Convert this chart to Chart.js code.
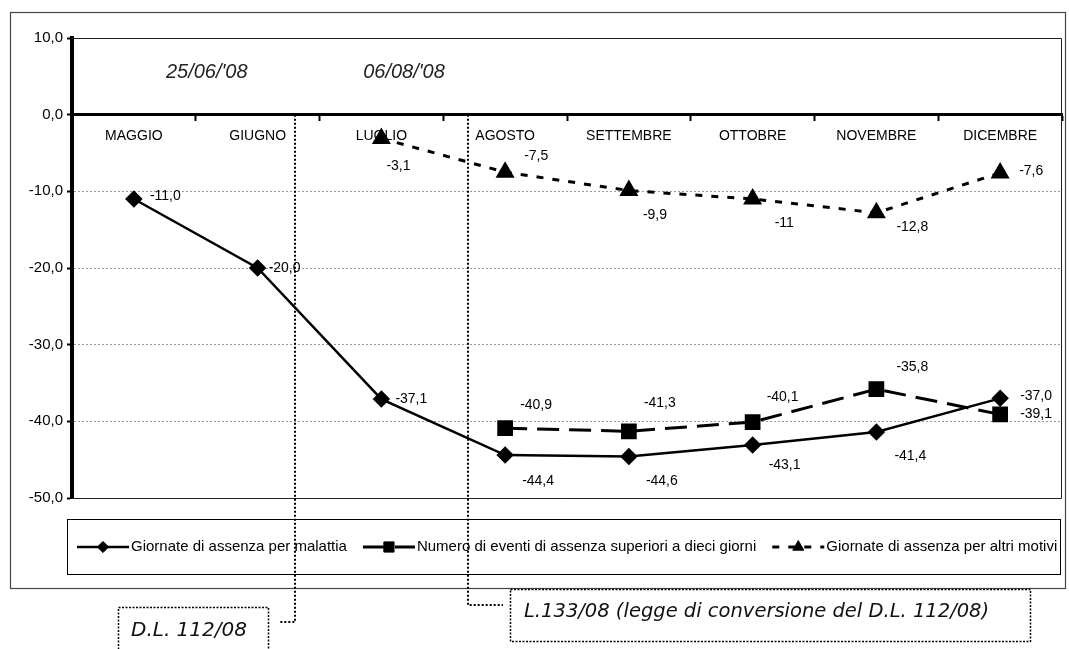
<!DOCTYPE html>
<html>
<head>
<meta charset="utf-8">
<title>Assenze 2008</title>
<script src="https://cdn.jsdelivr.net/npm/chart.js@4.4.0/dist/chart.umd.min.js"></script>
<style>
    html, body { margin: 0; padding: 0; background: #fff; }
    #wrap { width: 1069px; height: 649px; position: relative; }
</style>
</head>
<body>
<div id="wrap"><canvas id="assenzeChart" width="1069" height="649"></canvas></div>
<script>
const months = ['MAGGIO', 'GIUGNO', 'LUGLIO', 'AGOSTO', 'SETTEMBRE', 'OTTOBRE', 'NOVEMBRE', 'DICEMBRE'];
const malattia = [-11.0, -20.0, -37.1, -44.4, -44.6, -43.1, -41.4, -37.0];
const eventi = [null, null, null, -40.9, -41.3, -40.1, -35.8, -39.1];
const altriMotivi = [null, null, -3.1, -7.5, -9.9, -11, -12.8, -7.6];
const yMin = -50;
const yMax = 10;
const yStep = 10;
const seriesNames = [
    'Giornate di assenza per malattia',
    'Numero di eventi di assenza superiori a dieci giorni',
    'Giornate di assenza per altri motivi'
];
// dates of the two laws, as positions on the month axis
const dateLabels = ["25/06/'08", "06/08/'08"];
const datePositions = [1.30, 2.70];
const lawLabels = ['D.L. 112/08', 'L.133/08 (legge di conversione del D.L. 112/08)'];

const FONT = '"Liberation Sans", Arial, sans-serif';

// where each value label sits relative to its point
const labelOffsets = [
    [[16, -3], [11, 0], [14, 0], [17, 26], [17, 25], [16, 20], [18, 24], [20, -2]],
    [null, null, null, [15, -23], [15, -28], [14, -25], [20, -22], [20, 0]],
    [null, null, [5, 28], [19, -16], [14, 25], [22, 24], [20, 14], [19, -2]]
];

function fmtComma(v, fixed) {
    const s = fixed ? v.toFixed(1) : String(v);
    return s.replace('.', ',');
}

const valueLabels = {
    id: 'valueLabels',
    afterDatasetsDraw(chart) {
        const ctx = chart.ctx;
        ctx.save();
        ctx.fillStyle = '#000';
        ctx.font = '14px ' + FONT;
        ctx.textAlign = 'left';
        ctx.textBaseline = 'middle';
        chart.data.datasets.forEach((ds, di) => {
            const meta = chart.getDatasetMeta(di);
            meta.data.forEach((pt, i) => {
                const v = ds.data[i];
                if (v === null || v === undefined) return;
                const off = labelOffsets[di][i] || [12, 0];
                ctx.fillText(fmtComma(v, ds.fixedLabel), pt.x + off[0], pt.y + off[1]);
            });
        });
        ctx.restore();
    }
};

function drawSymbol(ctx, ds, x, y, len) {
    ctx.save();
    ctx.strokeStyle = ds.borderColor;
    ctx.lineWidth = ds.borderWidth;
    ctx.setLineDash(ds.borderDash || []);
    ctx.beginPath();
    ctx.moveTo(x, y);
    ctx.lineTo(x + len, y);
    ctx.stroke();
    ctx.setLineDash([]);
    ctx.fillStyle = ds.pointBackgroundColor;
    ctx.strokeStyle = ds.pointBorderColor;
    ctx.lineWidth = 1;
    Chart.helpers.drawPoint(ctx, {
        pointStyle: ds.pointStyle,
        radius: ds.pointRadius * 0.8,
        rotation: 0,
        borderWidth: 1
    }, x + len / 2, y);
    ctx.restore();
}

function dottedLine(ctx, pts) {
    ctx.beginPath();
    ctx.moveTo(pts[0][0], pts[0][1]);
    for (let i = 1; i < pts.length; i++) ctx.lineTo(pts[i][0], pts[i][1]);
    ctx.stroke();
}

const decorations = {
    id: 'decorations',
    afterDraw(chart) {
        const ctx = chart.ctx;
        const area = chart.chartArea;
        const x = chart.scales.x;
        const y = chart.scales.y;
        ctx.save();

        // outer frame
        ctx.strokeStyle = '#444';
        ctx.lineWidth = 1.2;
        ctx.strokeRect(10.5, 12.5, 1055, 576);

        // plot frame (top and right)
        ctx.strokeStyle = '#222';
        ctx.lineWidth = 1;
        ctx.beginPath();
        ctx.moveTo(area.left, area.top + 0.5);
        ctx.lineTo(area.right - 0.5, area.top + 0.5);
        ctx.lineTo(area.right - 0.5, area.bottom + 0.5);
        ctx.lineTo(area.left, area.bottom + 0.5);
        ctx.stroke();

        // legend box
        ctx.strokeStyle = '#000';
        ctx.lineWidth = 1;
        ctx.strokeRect(67.5, 519.5, 993, 55);
        ctx.font = '15px ' + FONT;
        ctx.fillStyle = '#000';
        ctx.textBaseline = 'middle';
        ctx.textAlign = 'left';
        let lx = 77;
        const ly = 547;
        chart.data.datasets.forEach((ds) => {
            drawSymbol(ctx, ds, lx, ly, 52);
            lx += 54;
            ctx.fillStyle = '#000';
            ctx.fillText(ds.label, lx, ly);
            lx += ctx.measureText(ds.label).width + 16;
        });

        // dates in the upper band
        ctx.font = 'italic 20px ' + FONT;
        ctx.fillStyle = '#222';
        ctx.textAlign = 'center';
        const dateY = (y.getPixelForValue(yMax) + y.getPixelForValue(0)) / 2 - 4;
        ctx.fillText(dateLabels[0], x.getPixelForValue(datePositions[0]) - 88, dateY);
        ctx.fillText(dateLabels[1], x.getPixelForValue(datePositions[1]) - 64, dateY);

        // dotted leaders to the law boxes
        ctx.strokeStyle = '#000';
        ctx.lineWidth = 2;
        ctx.setLineDash([2, 2]);
        const zeroY = y.getPixelForValue(0);
        const x1 = Math.round(x.getPixelForValue(datePositions[0]));
        const x2 = Math.round(x.getPixelForValue(datePositions[1]));
        dottedLine(ctx, [[x1, zeroY], [x1, 622], [279, 622]]);
        dottedLine(ctx, [[x2, zeroY], [x2, 605], [503, 605]]);

        // law boxes
        ctx.lineWidth = 1.5;
        ctx.setLineDash([2, 1.5]);
        ctx.strokeRect(118.5, 607.5, 150, 60);
        ctx.strokeRect(510.5, 589.5, 520, 52);
        ctx.setLineDash([]);
        ctx.fillStyle = '#111';
        ctx.textAlign = 'left';
        ctx.font = 'italic 20px "DejaVu Sans", Verdana, sans-serif';
        ctx.fillText(lawLabels[0], 131, 631);
        ctx.font = 'italic 19.5px "DejaVu Sans", Verdana, sans-serif';
        ctx.fillText(lawLabels[1], 524, 612);

        ctx.restore();
    }
};

const ctx = document.getElementById('assenzeChart');
new Chart(ctx, {
    type: 'line',
    data: {
        labels: months,
        datasets: [
            {
                label: seriesNames[0],
                data: malattia,
                fixedLabel: true,
                borderColor: '#000',
                borderWidth: 2.5,
                pointStyle: 'rectRot',
                pointRadius: 7,
                pointBackgroundColor: '#000',
                pointBorderColor: '#000',
                tension: 0,
                fill: false
            },
            {
                label: seriesNames[1],
                data: eventi,
                fixedLabel: true,
                borderColor: '#000',
                borderWidth: 3,
                borderDash: [22, 10],
                pointStyle: 'rect',
                pointRadius: 9,
                pointBackgroundColor: '#000',
                pointBorderColor: '#000',
                tension: 0,
                fill: false
            },
            {
                label: seriesNames[2],
                data: altriMotivi,
                fixedLabel: false,
                borderColor: '#000',
                borderWidth: 3,
                borderDash: [7, 9],
                pointStyle: 'triangle',
                pointRadius: 8,
                pointBackgroundColor: '#000',
                pointBorderColor: '#000',
                tension: 0,
                fill: false
            }
        ]
    },
    options: {
        responsive: false,
        animation: false,
        devicePixelRatio: 1,
        layout: {
            autoPadding: false,
            padding: { left: 0, top: 38, right: 7, bottom: 151 }
        },
        plugins: {
            legend: { display: false },
            tooltip: { enabled: false }
        },
        scales: {
            x: {
                type: 'category',
                offset: true,
                position: { y: 0 },
                grid: {
                    offset: true,
                    drawOnChartArea: false,
                    drawTicks: true,
                    tickLength: 5,
                    tickWidth: 2,
                    tickColor: '#000'
                },
                border: { display: true, color: '#000', width: 3 },
                ticks: {
                    color: '#000',
                    font: { family: FONT, size: 14 },
                    padding: 8,
                    maxRotation: 0,
                    autoSkip: false
                }
            },
            y: {
                min: yMin,
                max: yMax,
                afterFit(scale) { scale.width = 72; },
                grid: {
                    color: '#9a9a9a',
                    lineWidth: 1,
                    tickLength: 5,
                    tickWidth: 2,
                    tickColor: '#000'
                },
                border: { display: true, color: '#000', width: 4, dash: [2, 2] },
                ticks: {
                    stepSize: yStep,
                    color: '#000',
                    font: { family: FONT, size: 15 },
                    padding: 4,
                    callback: function(value) {
                        return value.toFixed(1).replace('.', ',');
                    }
                }
            }
        }
    },
    plugins: [valueLabels, decorations]
});
</script>
</body>
</html>
